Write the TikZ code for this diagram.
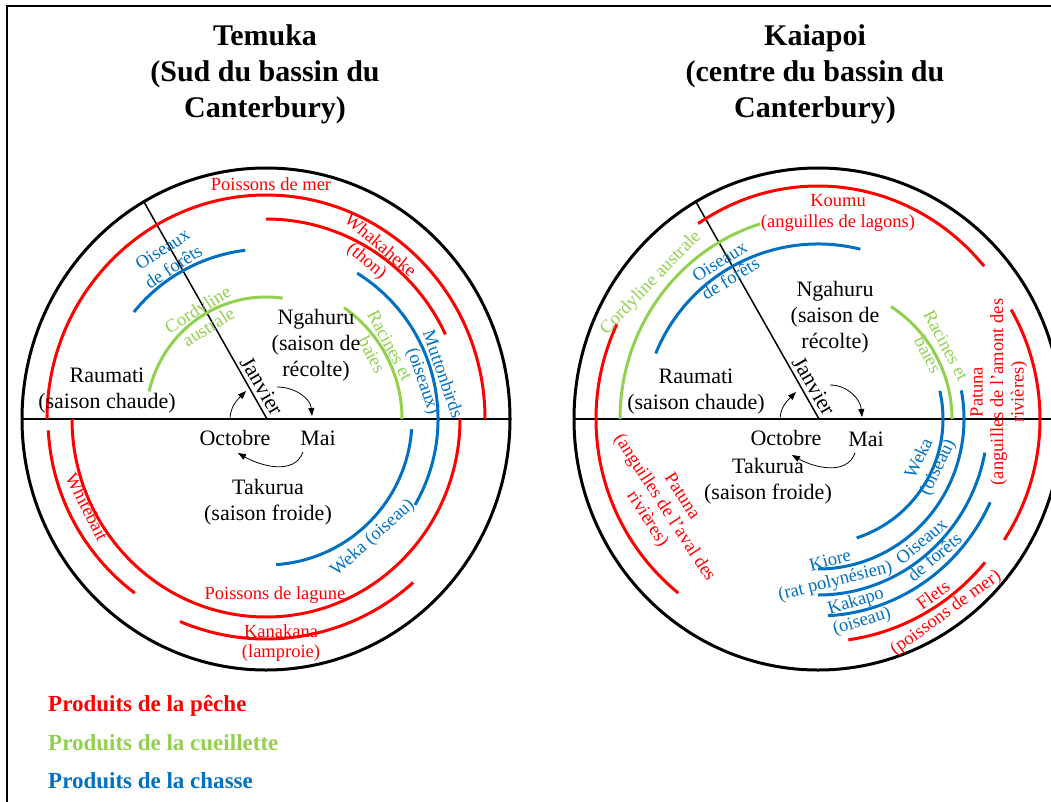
\documentclass[tikz,border=0pt]{standalone}
\usepackage{fontspec}
\setmainfont{Liberation Serif}
\usetikzlibrary{arrows.meta,calc}
\definecolor{pred}{RGB}{255,0,0}
\definecolor{pgreen}{RGB}{146,208,80}
\definecolor{pblue}{RGB}{0,112,192}
\newcommand{\myarc}[6]{\draw[#1] (#2) ++(#5:#3 and #4) arc[start angle=#5,end angle=#6,x radius=#3,y radius=#4];}
\begin{document}
\begin{tikzpicture}[x=1pt,y=1pt,
  redarc/.style={draw=pred,line width=3pt},
  greenarc/.style={draw=pgreen,line width=3pt},
  bluearc/.style={draw=pblue,line width=3pt},
  clab/.style={inner sep=0pt,align=center,font=\fontsize{18.5}{20.5}\selectfont},
  rlab/.style={clab,text=pred},
  glab/.style={clab,text=pgreen},
  blab/.style={clab,text=pblue},
  klab/.style={inner sep=0pt,align=center,font=\fontsize{22}{26}\selectfont},
  ttl/.style={inner sep=0pt,align=center,font=\fontsize{30}{36}\selectfont\bfseries},
  leg/.style={inner sep=0pt,anchor=west,font=\fontsize{23}{25}\selectfont\bfseries},
  thin/.style={draw=black,line width=1.3pt},
  cyc/.style={draw=black,line width=0.8pt,-{Triangle[length=8pt,width=6pt]}}
]
\useasboundingbox (0,0) rectangle (1051,-802);
\clip (0,0) rectangle (1051,-802);
\draw[line width=1.5pt] (1070,-6) -- (7,-6) -- (7,-820);

% ===== LEFT =====
\coordinate (C1) at (266,-419);
\draw[line width=3pt] (C1) ellipse[x radius=244,y radius=251];
\draw[thin] ($(C1)+(-244,0)$) -- ($(C1)+(244,0)$);
\coordinate (J1a) at (144,-202);
\coordinate (J1b) at (267,-419);
\draw[thin,line width=1.5pt] (J1a) -- (J1b);

\myarc{redarc}{C1}{219}{224}{0}{180}
\myarc{redarc}{C1}{198}{200}{25}{90}
\myarc{bluearc}{C1}{170}{170}{97}{141}
\myarc{greenarc}{C1}{120}{122}{82}{167}
\myarc{greenarc}{C1}{136}{136}{0}{55}
\myarc{bluearc}{C1}{172}{172}{-30}{58}
\myarc{bluearc}{C1}{146}{146}{-86}{-4}
\myarc{redarc}{C1}{194}{198}{180}{360}
\myarc{redarc}{C1}{220}{220}{247}{312}
\myarc{redarc}{C1}{218}{218}{183}{233}

\node[ttl] (t1) at (265,-74) {Temuka\\(Sud du bassin du\\Canterbury)};
\node[rlab] (l1) at (271,-184) {Poissons de mer};
\node[rlab,rotate=-40] (l2) at (373,-254) {Whakaheke\\(thon)};
\node[blab,rotate=33] (l3) at (168,-258) {Oiseaux\\de forêts};
\node[glab,rotate=32] (l4) at (203,-318) {Cordyline\\australe};
\node[glab,rotate=-62] (l5) at (381,-350) {Racines et\\baies};
\node[blab,rotate=-71] (l6) at (432,-378) {Muttonbirds\\(oiseaux)};
\node[klab] (l7) at (316,-345) {Ngahuru\\(saison de\\récolte)};
\node[klab] (l8) at (107,-391) {Raumati\\(saison chaude)};
\node[klab,rotate=-60] (l9) at (262,-386) {Janvier};
\node[klab] (o1) at (235,-438) {Octobre};
\node[klab] (m1) at (318,-438) {Mai};
\node[klab] (l10) at (268,-502) {Takurua\\(saison froide)};
\node[rlab,rotate=-63] (l11) at (87,-507) {Whitebait};
\node[blab,rotate=42] (l12) at (373,-538) {Weka (oiseau)};
\node[rlab] (l13) at (275,-595) {Poissons de lagune};
\node[rlab] (l14) at (281,-643) {Kanakana\\(lamproie)};

\coordinate (a1s) at (230,-420); \coordinate (a1e) at (246,-391);
\coordinate (a2s) at (277,-387); \coordinate (a2e) at (312,-416);
\coordinate (a3s) at (303,-452); \coordinate (a3e) at (238,-453);
\draw[cyc] (a1s) to[out=90,in=225] (a1e);
\draw[cyc] (a2s) to[out=0,in=95] (a2e);
\draw[cyc] (a3s) to[out=250,in=-30] (a3e);

% ===== RIGHT =====
\coordinate (C2) at (818,-419);
\draw[line width=3pt] (C2) ellipse[x radius=244,y radius=251];
\draw[thin] ($(C2)+(-244,0)$) -- ($(C2)+(244,0)$);
\coordinate (J2a) at (696,-202);
\coordinate (J2b) at (819,-419);
\draw[thin,line width=1.5pt] (J2a) -- (J2b);

\myarc{redarc}{C2}{220}{233}{41}{123}
\myarc{greenarc}{C2}{198}{204}{107}{180}
\myarc{bluearc}{C2}{175}{175}{76}{158}
\myarc{greenarc}{C2}{134}{134}{0}{57}
\myarc{bluearc}{C2}{125}{125}{-72}{13}
\myarc{bluearc}{C2}{146}{150}{-90}{11}
\myarc{bluearc}{C2}{170}{176}{-90}{-11}
\myarc{bluearc}{C2}{190}{197}{-87}{-25}
\myarc{redarc}{C2}{218}{223}{-82}{-40}
\myarc{redarc}{C2}{222}{222}{-33}{29.5}
\myarc{redarc}{C2}{222}{224}{155}{231}

\node[ttl] (t2) at (815,-74) {Kaiapoi\\(centre du bassin du\\Canterbury)};
\node[rlab] (r1) at (838,-213) {Koumu\\(anguilles de lagons)};
\node[glab,rotate=46] (r2) at (651,-283) {Cordyline australe};
\node[blab,rotate=32] (r3) at (725,-270) {Oiseaux\\de forêts};
\node[klab] (r4) at (835,-317) {Ngahuru\\(saison de\\récolte)};
\node[glab,rotate=-62] (r5) at (937,-350) {Racines et\\baies};
\node[klab] (r6) at (696,-392) {Raumati\\(saison chaude)};
\node[klab,rotate=-60] (r7) at (814,-386) {Janvier};
\node[rlab,rotate=90] (r8) at (999,-392) {Patuna\\(anguilles de l'amont des\\rivières)};
\node[klab] (o2) at (786,-438) {Octobre};
\node[klab] (m2) at (866,-439) {Mai};
\node[klab] (r9) at (768,-481) {Takurua\\(saison froide)};
\node[rlab,rotate=-57] (r10) at (664,-508) {Patuna\\(anguilles de l'aval des\\rivières)};
\node[blab,rotate=64] (r11) at (929,-463) {Weka\\(oiseau)};
\node[blab,rotate=14] (r12) at (833,-572) {Kiore\\(rat polynésien)};
\node[blab,rotate=40] (r13) at (928,-549) {Oiseaux\\de forêts};
\node[blab,rotate=17] (r14) at (859,-612) {Kakapo\\(oiseau)};
\node[rlab,rotate=36] (r15) at (940,-605) {Flets\\(poissons de mer)};

\coordinate (b1s) at (780,-420); \coordinate (b1e) at (796,-392);
\coordinate (b2s) at (830,-385); \coordinate (b2e) at (862,-417);
\coordinate (b3s) at (855,-453); \coordinate (b3e) at (792,-455);
\draw[cyc] (b1s) to[out=90,in=225] (b1e);
\draw[cyc] (b2s) to[out=0,in=95] (b2e);
\draw[cyc] (b3s) to[out=250,in=-30] (b3e);

% ===== LEGEND =====
\node[leg,text=pred] (g1) at (48,-706) {Produits de la pêche};
\node[leg,text=pgreen] (g2) at (48,-743) {Produits de la cueillette};
\node[leg,text=pblue] (g3) at (48,-781) {Produits de la chasse};
\end{tikzpicture}
\end{document}
